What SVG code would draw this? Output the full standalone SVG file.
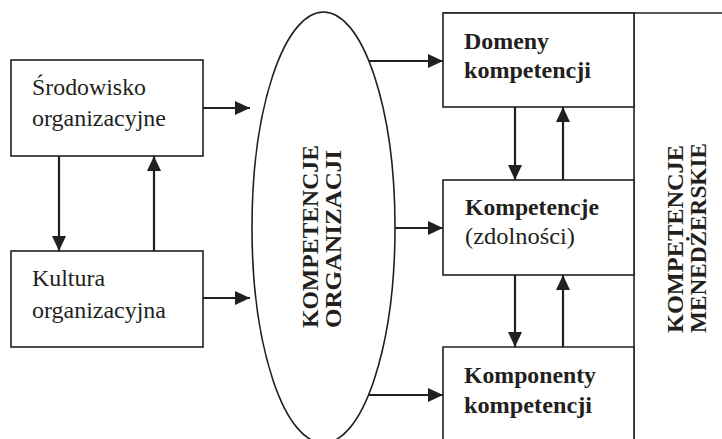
<svg xmlns="http://www.w3.org/2000/svg" width="722" height="439" viewBox="0 0 722 439">
  <style>
    .box { fill: #fff; stroke: #231f20; stroke-width: 1.6; }
    .line { fill: none; stroke: #231f20; stroke-width: 1.6; }
    .conn { fill: none; stroke: #231f20; stroke-width: 2.2; }
    .t { font-family: "Liberation Serif", "Times New Roman", serif; font-size: 24px; fill: #231f20; }
    .b { font-weight: bold; }
    .r { font-family: "Liberation Serif", "Times New Roman", serif; font-size: 23.5px; font-weight: bold; fill: #231f20; }
  </style>
  <defs>
    <marker id="arr" markerUnits="userSpaceOnUse" markerWidth="16" markerHeight="14" refX="15" refY="7" orient="auto">
      <path d="M0,0 L15,7 L0,14 Z" fill="#231f20"/>
    </marker>
  </defs>

  <g id="srodowisko">
    <rect class="box" x="11" y="60" width="192" height="96"/>
    <text class="t" x="32" y="95" textLength="114" lengthAdjust="spacingAndGlyphs">Środowisko</text>
    <text class="t" x="32" y="126" textLength="134" lengthAdjust="spacingAndGlyphs">organizacyjne</text>
  </g>

  <g id="kultura">
    <rect class="box" x="11" y="251" width="192" height="96"/>
    <text class="t" x="32" y="286" textLength="73" lengthAdjust="spacingAndGlyphs">Kultura</text>
    <text class="t" x="32" y="318" textLength="134" lengthAdjust="spacingAndGlyphs">organizacyjna</text>
  </g>

  <g id="kompetencje-organizacji">
    <ellipse class="line" cx="323.5" cy="227.5" rx="71.5" ry="215.5"/>
    <text class="r" transform="translate(318,328) rotate(-90)" textLength="183" lengthAdjust="spacingAndGlyphs">KOMPETENCJE</text>
    <text class="r" transform="translate(341,328) rotate(-90)" textLength="178" lengthAdjust="spacingAndGlyphs">ORGANIZACJI</text>
  </g>

  <g id="menedzerskie">
    <path class="line" d="M443,13 H722 M634,13 V439"/>
    <text class="r" transform="translate(683,333) rotate(-90)" textLength="188" lengthAdjust="spacingAndGlyphs">KOMPETENCJE</text>
    <text class="r" transform="translate(706,333) rotate(-90)" textLength="190" lengthAdjust="spacingAndGlyphs">MENEDŻERSKIE</text>
  </g>

  <g id="domeny">
    <rect class="box" x="443" y="13" width="191" height="94"/>
    <text class="t b" x="464" y="48.5" textLength="85" lengthAdjust="spacingAndGlyphs">Domeny</text>
    <text class="t b" x="464" y="77.5" textLength="127" lengthAdjust="spacingAndGlyphs">kompetencji</text>
  </g>

  <g id="kompetencje">
    <rect class="box" x="443" y="180" width="191" height="95"/>
    <text class="t b" x="465" y="215" textLength="134" lengthAdjust="spacingAndGlyphs">Kompetencje</text>
    <text class="t" x="465" y="244" textLength="110" lengthAdjust="spacingAndGlyphs">(zdolności)</text>
  </g>

  <g id="komponenty">
    <path class="box" d="M443,441 V347 H634 V441"/>
    <text class="t b" x="464" y="383" textLength="132" lengthAdjust="spacingAndGlyphs">Komponenty</text>
    <text class="t b" x="464" y="413" textLength="128" lengthAdjust="spacingAndGlyphs">kompetencji</text>
  </g>

  <g id="connectors">
    <line class="conn" x1="203" y1="108" x2="250" y2="108" marker-end="url(#arr)"/>
    <line class="conn" x1="203" y1="298" x2="250" y2="298" marker-end="url(#arr)"/>
    <line class="conn" x1="59" y1="156" x2="59" y2="251" marker-end="url(#arr)"/>
    <line class="conn" x1="154" y1="251" x2="154" y2="156" marker-end="url(#arr)"/>
    <line class="conn" x1="369" y1="61" x2="443" y2="61" marker-end="url(#arr)"/>
    <line class="conn" x1="395" y1="228" x2="443" y2="228" marker-end="url(#arr)"/>
    <line class="conn" x1="369" y1="395" x2="443" y2="395" marker-end="url(#arr)"/>
    <line class="conn" x1="515" y1="107" x2="515" y2="180" marker-end="url(#arr)"/>
    <line class="conn" x1="563" y1="180" x2="563" y2="107" marker-end="url(#arr)"/>
    <line class="conn" x1="515" y1="275" x2="515" y2="347" marker-end="url(#arr)"/>
    <line class="conn" x1="563" y1="347" x2="563" y2="275" marker-end="url(#arr)"/>
  </g>
</svg>
